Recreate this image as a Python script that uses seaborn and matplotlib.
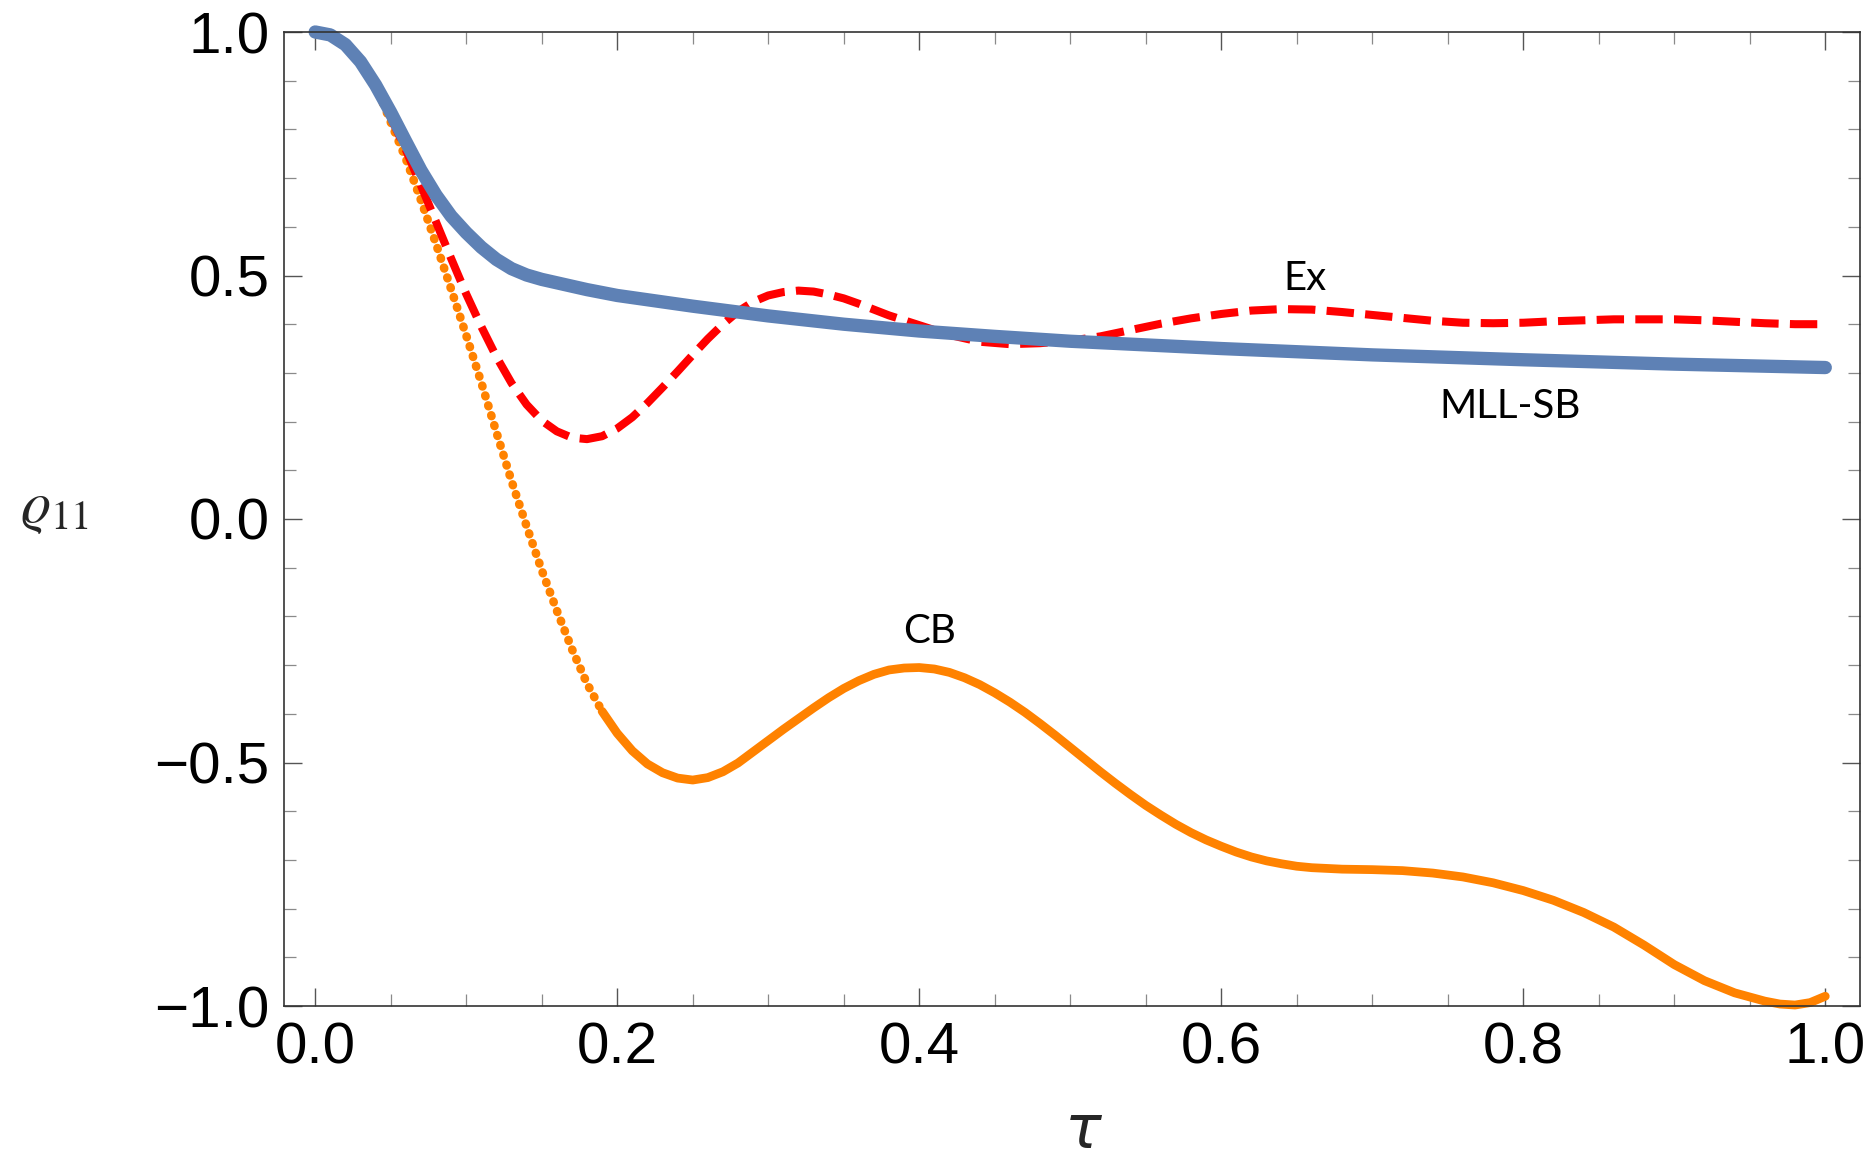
import numpy as np
import pandas as pd
import matplotlib
matplotlib.use("Agg")
import matplotlib.pyplot as plt
import seaborn as sns
from matplotlib.ticker import MultipleLocator, FixedLocator

# ---------------- data ----------------
tau_sb = [0.0, 0.01, 0.02, 0.03, 0.04, 0.05, 0.06, 0.07, 0.08, 0.09, 0.10, 0.11,
          0.12, 0.13, 0.14, 0.15, 0.16, 0.18, 0.20, 0.25, 0.30, 0.35, 0.40, 0.45,
          0.50, 0.60, 0.70, 0.80, 0.90, 1.00]
rho_sb = [1.0, 0.994, 0.974, 0.939, 0.891, 0.835, 0.775, 0.716, 0.665, 0.622, 0.588, 0.558,
          0.533, 0.514, 0.501, 0.492, 0.485, 0.471, 0.459, 0.437, 0.417, 0.400, 0.386, 0.375,
          0.365, 0.350, 0.337, 0.327, 0.318, 0.311]

tau_ex = [0.0, 0.01, 0.02, 0.03, 0.04, 0.05, 0.06, 0.07, 0.08, 0.09, 0.10, 0.11,
          0.12, 0.13, 0.14, 0.15, 0.16, 0.17, 0.18, 0.19, 0.20, 0.21, 0.22, 0.23,
          0.24, 0.25, 0.26, 0.27, 0.28, 0.29, 0.30, 0.31, 0.32, 0.33, 0.34, 0.35,
          0.36, 0.38, 0.40, 0.42, 0.44, 0.46, 0.48, 0.50, 0.52, 0.54, 0.56, 0.58,
          0.60, 0.62, 0.64, 0.66, 0.68, 0.70, 0.72, 0.74, 0.76, 0.78, 0.80, 0.82,
          0.84, 0.86, 0.88, 0.90, 0.92, 0.94, 0.96, 0.98, 1.00]
rho_ex = [1.0, 0.994, 0.974, 0.939, 0.891, 0.825, 0.758, 0.685, 0.61, 0.535, 0.462, 0.395,
          0.333, 0.279, 0.235, 0.202, 0.18, 0.167, 0.164, 0.17, 0.186, 0.209, 0.238, 0.27,
          0.303, 0.337, 0.37, 0.40, 0.426, 0.446, 0.459, 0.466, 0.469, 0.467, 0.461, 0.453,
          0.442, 0.418, 0.398, 0.378, 0.364, 0.359, 0.361, 0.366, 0.375, 0.388, 0.401, 0.412,
          0.421, 0.428, 0.431, 0.430, 0.425, 0.419, 0.413, 0.407, 0.403, 0.402, 0.403, 0.406,
          0.408, 0.410, 0.410, 0.410, 0.408, 0.405, 0.402, 0.400, 0.400]

tau_cb = [0.0, 0.01, 0.02, 0.03, 0.04, 0.05, 0.06, 0.07, 0.08, 0.09, 0.10, 0.11,
          0.12, 0.13, 0.14, 0.15, 0.16, 0.17, 0.18, 0.19, 0.20, 0.21, 0.22, 0.23,
          0.24, 0.25, 0.26, 0.27, 0.28, 0.29, 0.30, 0.31, 0.32, 0.33, 0.34, 0.35,
          0.36, 0.37, 0.38, 0.39, 0.40, 0.41, 0.42, 0.43, 0.44, 0.45, 0.46, 0.47,
          0.48, 0.49, 0.50, 0.51, 0.52, 0.53, 0.54, 0.55, 0.56, 0.57, 0.58, 0.59,
          0.60, 0.61, 0.62, 0.63, 0.64, 0.65, 0.66, 0.68, 0.70, 0.72, 0.74, 0.76,
          0.78, 0.80, 0.82, 0.84, 0.86, 0.88, 0.90, 0.92, 0.94, 0.96, 0.97, 0.98,
          0.99, 1.00]
rho_cb = [1.0, 0.994, 0.974, 0.939, 0.891, 0.815, 0.74, 0.655, 0.565, 0.472, 0.377, 0.28,
          0.178, 0.078, -0.015, -0.105, -0.188, -0.267, -0.338, -0.395, -0.44, -0.476, -0.503, -0.521,
          -0.532, -0.536, -0.531, -0.519, -0.501, -0.478, -0.455, -0.432, -0.41, -0.388, -0.367, -0.348,
          -0.332, -0.319, -0.31, -0.306, -0.305, -0.308, -0.315, -0.326, -0.34, -0.357, -0.376, -0.397,
          -0.42, -0.444, -0.469, -0.494, -0.519, -0.543, -0.566, -0.588, -0.608, -0.627, -0.644, -0.659,
          -0.672, -0.684, -0.694, -0.702, -0.708, -0.713, -0.716, -0.719, -0.72, -0.722, -0.727, -0.735,
          -0.747, -0.763, -0.783, -0.808, -0.838, -0.875, -0.915, -0.948, -0.973, -0.99, -0.996, -0.998,
          -0.993, -0.98]

x_major_ticks = [0.0, 0.2, 0.4, 0.6, 0.8, 1.0]
y_major_ticks = [-1.0, -0.5, 0.0, 0.5, 1.0]

curve_labels = ["Ex", "MLL-SB", "CB"]
label_x = [0.6556, 0.791, 0.4066]
label_y = [0.470, 0.2074, -0.2546]

# ---------------- style ----------------
sns.set_theme(style="ticks")
plt.rcParams["font.family"] = ["Liberation Sans", "DejaVu Sans"]
plt.rcParams["mathtext.fontset"] = "stix"

C_BLUE = "#5E81B5"
C_RED = "#FF0000"
C_ORANGE = "#FF8200"

fig = plt.figure(figsize=(18.7, 11.58), dpi=100)
fig.patch.set_facecolor("white")
W, H = 1870.0, 1158.0
left, right, top, bottom = 283.5, 1860.0, 32.0, 1006.0
ax = fig.add_axes([left / W, 1 - bottom / H, (right - left) / W, (bottom - top) / H])
ax.set_facecolor("white")

df_sb = pd.DataFrame({"tau": tau_sb, "rho": rho_sb})
df_ex = pd.DataFrame({"tau": tau_ex, "rho": rho_ex})
df_cb = pd.DataFrame({"tau": tau_cb, "rho": rho_cb})

# CB: sampled points look dotted on the steep part, solid elsewhere
cb_steep = df_cb[df_cb["tau"] <= 0.19]
cb_flat = df_cb[df_cb["tau"] >= 0.19]
sns.lineplot(data=cb_steep, x="tau", y="rho", ax=ax, color=C_ORANGE, sort=False,
             estimator=None, linewidth=6.2)
l_dot = ax.lines[-1]
l_dot.set_linestyle((0, (0.1, 1.1)))
l_dot.set_dash_capstyle("round")
sns.lineplot(data=cb_flat, x="tau", y="rho", ax=ax, color=C_ORANGE, sort=False,
             estimator=None, linewidth=6.3)
ax.lines[-1].set_solid_capstyle("round")

# Ex: dashed red
sns.lineplot(data=df_ex, x="tau", y="rho", ax=ax, color=C_RED, sort=False,
             estimator=None, linewidth=5.8)
l_ex = ax.lines[-1]
l_ex.set_dashes([3.4, 1.4])
l_ex.set_dash_capstyle("butt")

# MLL-SB: thick blue
sns.lineplot(data=df_sb, x="tau", y="rho", ax=ax, color=C_BLUE, sort=False,
             estimator=None, linewidth=9.6)
ax.lines[-1].set_solid_capstyle("round")

for ln in ax.lines:
    ln.set_clip_on(False)
    ln.set_solid_joinstyle("round")
    ln.set_dash_joinstyle("round")

ax.set_xlim(-0.021, 1.023)
ax.set_ylim(-1.0, 1.0)

ax.xaxis.set_major_locator(FixedLocator(x_major_ticks))
ax.yaxis.set_major_locator(FixedLocator(y_major_ticks))
ax.xaxis.set_minor_locator(MultipleLocator(0.05))
ax.yaxis.set_minor_locator(MultipleLocator(0.1))
ax.tick_params(which="both", direction="in", top=True, right=True,
               labeltop=False, labelright=False)
ax.tick_params(which="major", length=13, width=1.0, color="#555555",
               labelsize=42, labelcolor="black")
ax.tick_params(axis="y", which="major", pad=10)
ax.tick_params(axis="x", which="major", pad=11)
ax.tick_params(which="minor", length=8.3, width=0.9, color="#8a8a8a")
for sp in ax.spines.values():
    sp.set_color("#333333")
    sp.set_linewidth(1.2)
    sp.set_visible(True)

ax.set_xlabel("τ", fontsize=44, fontstyle="italic", family="DejaVu Sans")
ax.xaxis.set_label_coords((1083 - left) / (right - left), (bottom - 1132) / (bottom - top))
ax.xaxis.label.set_va("center")
ax.set_ylabel(r"$\varrho_{11}$", fontsize=42, rotation=0)
ax.yaxis.set_label_coords((54 - left) / (right - left), (bottom - 509) / (bottom - top))
ax.yaxis.label.set_va("center")
ax.yaxis.label.set_ha("center")

for txt, xx, yy in zip(curve_labels, label_x, label_y):
    ax.text(xx, yy, txt, fontsize=29, family=["Lato", "DejaVu Sans"], fontweight="normal",
            ha="center", va="baseline", color="black")

fig.savefig("out.png", dpi=100, facecolor="white")
